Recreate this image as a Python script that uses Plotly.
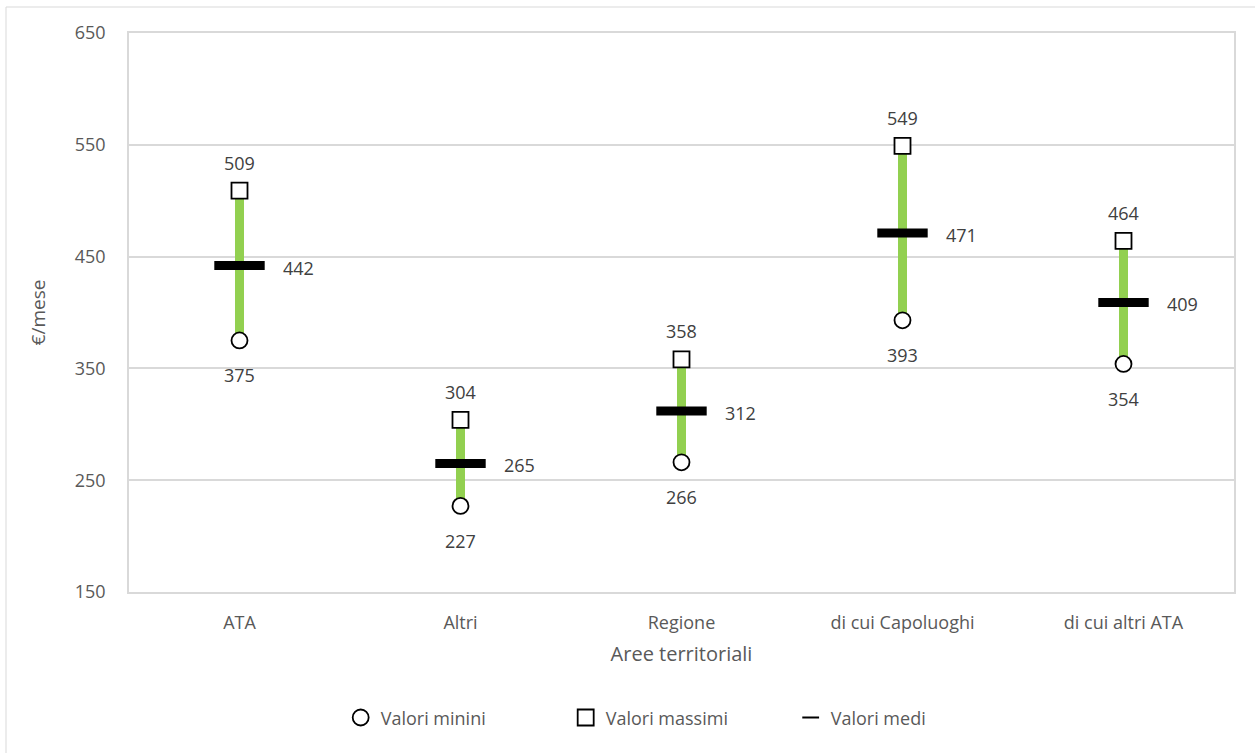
import plotly.graph_objects as go

categories = ["ATA", "Altri", "Regione", "di cui Capoluoghi", "di cui altri ATA"]
min_vals = [375, 227, 266, 393, 354]
max_vals = [509, 304, 358, 549, 464]
mean_vals = [442, 265, 312, 471, 409]
y_ticks = [150, 250, 350, 450, 550, 650]

FONT = "Open Sans"
TXT = "#595959"
LBL = "#404040"

fig = go.Figure()

# green range lines
rx, ry = [], []
for c, lo, hi in zip(categories, min_vals, max_vals):
    rx += [c, c, None]
    ry += [lo, hi, None]
fig.add_trace(go.Scatter(x=rx, y=ry, mode="lines", line=dict(color="#92D050", width=9),
                         showlegend=False, hoverinfo="skip"))

# mean bars
fig.add_trace(go.Scatter(x=categories, y=mean_vals, mode="markers",
                         marker=dict(symbol="line-ew", size=36, color="black",
                                     line=dict(color="black", width=9)),
                         showlegend=False))

fig.add_trace(go.Scatter(x=categories, y=min_vals, mode="markers", name="Valori minini",
                         marker=dict(symbol="circle", size=16, color="white",
                                     line=dict(color="black", width=1.8))))
fig.add_trace(go.Scatter(x=categories, y=max_vals, mode="markers", name="Valori massimi",
                         marker=dict(symbol="square", size=16, color="white",
                                     line=dict(color="black", width=1.8))))
# legend entry for means
fig.add_trace(go.Scatter(x=[None], y=[None], mode="markers", name="Valori medi",
                         marker=dict(symbol="line-ew", size=12, color="black",
                                     line=dict(color="black", width=2))))

ann = []
for c, lo, hi, m in zip(categories, min_vals, max_vals, mean_vals):
    ann.append(dict(x=c, y=hi, text=str(hi), showarrow=False, yshift=28,
                    font=dict(size=18, color=LBL, family=FONT)))
    ann.append(dict(x=c, y=lo, text=str(lo), showarrow=False, yshift=-35,
                    font=dict(size=18, color=LBL, family=FONT)))
    ann.append(dict(x=c, y=m, text=str(m), showarrow=False, xshift=59, yshift=-2,
                    font=dict(size=18, color=LBL, family=FONT)))

W, H = 1255, 753
L, R, T, B = 129, 21, 33, 161
pw, ph = W - L - R, H - T - B

fig.update_layout(
    width=W, height=H,
    margin=dict(l=L, r=R, t=T, b=B),
    paper_bgcolor="white", plot_bgcolor="white",
    font=dict(family=FONT, color=TXT, size=18),
    annotations=ann,
    showlegend=True,
    legend=dict(orientation="h", x=0.497, xanchor="center", y=-0.225, yanchor="middle",
                font=dict(size=18, color=TXT, family=FONT), entrywidth=180,
                itemwidth=30),
    shapes=[dict(type="rect", xref="paper", yref="paper",
                 x0=(6 - L) / pw, x1=(W + 10 - L) / pw,
                 y0=-(B + 10) / ph, y1=1 + (T - 7) / ph,
                 line=dict(color="#D9D9D9", width=1), fillcolor="rgba(0,0,0,0)", layer="below")],
)
fig.update_xaxes(type="category", range=[-0.5, 4.5], showgrid=False,
                 showline=True, linecolor="#D9D9D9", linewidth=1.5, mirror=True,
                 ticks="", ticklabelstandoff=14, tickfont=dict(size=18, color=TXT),
                 title=dict(text="Aree territoriali", font=dict(size=20, color=TXT), standoff=14))
fig.update_yaxes(range=[150, 650], tickvals=y_ticks, showgrid=True, gridcolor="#D9D9D9",
                 gridwidth=1.5, showline=True, linecolor="#D9D9D9", linewidth=1.5, mirror=True,
                 zeroline=False, ticks="", ticklabelstandoff=18,
                 tickfont=dict(size=18, color=TXT),
                 title=dict(text="€/mese", font=dict(size=19, color=TXT), standoff=24))

fig.write_html("out.html")
